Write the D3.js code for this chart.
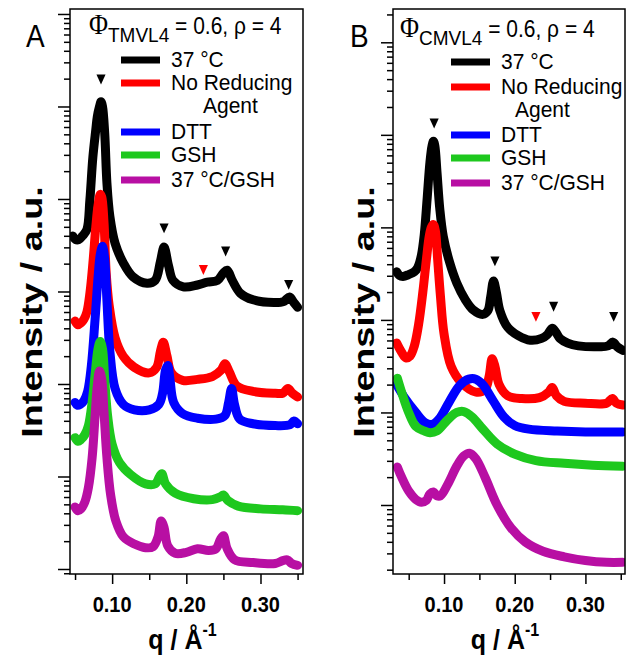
<!DOCTYPE html>
<html><head><meta charset="utf-8">
<script src="https://cdn.jsdelivr.net/npm/d3@7"></script>
<style>body{margin:0;background:#fff}svg{display:block}</style>
</head><body><div id="chart"></div>
<script>
// ---------------- DATA ----------------
const seriesNames = ["37 °C", "No Reducing Agent", "DTT", "GSH", "37 °C/GSH"];
const xTickValues = [0.05, 0.10, 0.15, 0.20, 0.25, 0.30, 0.35];
const xTickLabels = ["", "0.10", "", "0.20", "", "0.30", ""];

// Panel A (TMVL4): q in 1/Å, log10 intensity (a.u.)
const qA_37C   = [0.047,0.051,0.055,0.060,0.066,0.070,0.074,0.078,0.080,0.083,0.085,0.087,0.090,0.093,0.097,0.104,0.115,0.128,0.147,0.158,0.165,0.170,0.176,0.182,0.196,0.215,0.228,0.242,0.250,0.255,0.262,0.273,0.290,0.318,0.331,0.339,0.345,0.350];
const logA_37C = [3.60,3.56,3.56,3.60,3.67,3.99,4.45,4.75,4.89,5.00,5.05,5.00,4.71,4.17,3.81,3.52,3.31,3.16,3.09,3.12,3.32,3.48,3.28,3.12,3.05,3.07,3.10,3.12,3.20,3.23,3.12,2.98,2.91,2.88,2.89,2.94,2.88,2.83];
const qA_NoRA   = [0.050,0.054,0.058,0.062,0.066,0.070,0.074,0.078,0.081,0.084,0.086,0.089,0.092,0.096,0.104,0.115,0.130,0.150,0.160,0.165,0.169,0.174,0.180,0.195,0.215,0.235,0.247,0.252,0.258,0.268,0.290,0.320,0.330,0.337,0.343,0.350];
const logA_NoRA = [2.68,2.64,2.66,2.70,2.78,2.98,3.30,3.70,3.93,4.05,4.02,3.75,3.20,2.85,2.50,2.30,2.18,2.12,2.18,2.35,2.45,2.30,2.12,2.04,2.05,2.08,2.15,2.22,2.13,1.98,1.92,1.90,1.90,1.95,1.90,1.86];
const qA_DTT   = [0.050,0.053,0.057,0.062,0.067,0.072,0.077,0.081,0.084,0.087,0.090,0.093,0.097,0.104,0.115,0.130,0.150,0.163,0.168,0.172,0.175,0.178,0.183,0.195,0.215,0.240,0.252,0.257,0.261,0.265,0.272,0.290,0.320,0.340,0.345,0.350];
const logA_DTT = [1.80,1.77,1.78,1.82,1.92,2.20,2.70,3.15,3.40,3.49,3.35,2.90,2.35,1.95,1.78,1.72,1.72,1.78,1.90,2.15,2.20,2.05,1.80,1.68,1.63,1.62,1.66,1.80,1.95,1.78,1.62,1.57,1.55,1.56,1.60,1.57];
const qA_GSH   = [0.050,0.054,0.058,0.063,0.068,0.073,0.077,0.081,0.084,0.087,0.090,0.094,0.100,0.110,0.125,0.145,0.158,0.164,0.167,0.172,0.185,0.210,0.235,0.246,0.250,0.256,0.270,0.300,0.330,0.350];
const logA_GSH = [1.42,1.38,1.40,1.45,1.55,1.80,2.10,2.38,2.46,2.38,2.05,1.65,1.35,1.15,1.02,0.92,0.92,1.00,1.03,0.92,0.82,0.76,0.75,0.78,0.80,0.74,0.68,0.65,0.64,0.63];
const qA_37GSH   = [0.050,0.054,0.058,0.063,0.068,0.073,0.077,0.080,0.083,0.086,0.089,0.093,0.098,0.105,0.115,0.130,0.145,0.155,0.162,0.166,0.170,0.175,0.185,0.200,0.215,0.230,0.240,0.246,0.250,0.255,0.265,0.290,0.320,0.330,0.336,0.342,0.350];
const logA_37GSH = [0.67,0.63,0.65,0.72,0.88,1.20,1.65,1.98,2.14,2.05,1.70,1.20,0.80,0.52,0.35,0.27,0.23,0.24,0.35,0.52,0.45,0.25,0.17,0.18,0.22,0.20,0.22,0.32,0.36,0.22,0.10,0.07,0.06,0.09,0.10,0.06,0.04];

// Panel B (CMVL4)
const qB_37C   = [0.033,0.037,0.042,0.050,0.058,0.063,0.068,0.072,0.076,0.080,0.083,0.085,0.087,0.090,0.094,0.099,0.108,0.118,0.130,0.141,0.155,0.162,0.166,0.170,0.174,0.179,0.190,0.205,0.222,0.238,0.246,0.253,0.258,0.264,0.275,0.290,0.320,0.332,0.339,0.345,0.353];
const logB_37C = [2.52,2.48,2.47,2.49,2.52,2.57,2.70,2.92,3.30,3.70,3.88,3.93,3.88,3.60,3.20,2.90,2.62,2.40,2.22,2.11,2.06,2.10,2.25,2.42,2.30,2.10,1.92,1.83,1.78,1.80,1.84,1.91,1.87,1.80,1.75,1.72,1.71,1.72,1.76,1.71,1.67];
const qB_NoRA   = [0.033,0.040,0.046,0.052,0.058,0.064,0.070,0.075,0.079,0.082,0.085,0.088,0.091,0.095,0.100,0.110,0.125,0.145,0.158,0.164,0.168,0.172,0.178,0.190,0.210,0.235,0.248,0.253,0.259,0.270,0.300,0.330,0.338,0.344,0.353];
const logB_NoRA = [1.75,1.65,1.59,1.61,1.72,1.95,2.30,2.65,2.90,3.00,3.03,2.95,2.65,2.25,1.85,1.50,1.32,1.22,1.25,1.40,1.58,1.50,1.30,1.18,1.15,1.16,1.22,1.27,1.18,1.12,1.10,1.10,1.15,1.10,1.08];
const qB_DTT   = [0.033,0.045,0.060,0.073,0.083,0.093,0.107,0.122,0.135,0.145,0.155,0.170,0.185,0.200,0.220,0.260,0.300,0.353];
const logB_DTT = [1.30,1.15,1.00,0.89,0.87,0.93,1.11,1.29,1.36,1.36,1.30,1.12,0.95,0.86,0.82,0.80,0.79,0.79];
const qB_GSH   = [0.034,0.040,0.050,0.060,0.072,0.080,0.090,0.105,0.118,0.128,0.140,0.155,0.175,0.200,0.230,0.270,0.310,0.353];
const logB_GSH = [1.37,1.22,1.00,0.85,0.80,0.78,0.80,0.92,1.00,1.01,0.95,0.82,0.66,0.55,0.48,0.45,0.43,0.42];
const qB_37GSH   = [0.034,0.040,0.050,0.060,0.068,0.075,0.080,0.085,0.090,0.095,0.105,0.118,0.128,0.136,0.145,0.158,0.175,0.195,0.215,0.240,0.270,0.300,0.330,0.353];
const logB_37GSH = [0.41,0.30,0.15,0.06,0.03,0.05,0.12,0.14,0.10,0.10,0.22,0.42,0.53,0.56,0.50,0.30,0.00,-0.25,-0.40,-0.50,-0.56,-0.60,-0.62,-0.62];

// Peak markers (q, log10 intensity, 0 = black marker, 1 = red marker)
const markA_q = [0.085, 0.170, 0.223, 0.253, 0.338];
const markA_log = [5.31, 3.70, 3.25, 3.45, 3.09];
const markA_kind = [0, 0, 1, 0, 0];
const markB_q = [0.086, 0.172, 0.230, 0.255, 0.340];
const markB_log = [4.14, 2.65, 2.05, 2.16, 2.05];
const markB_kind = [0, 0, 1, 0, 0];

// ---------------- STYLE / LAYOUT ----------------
const colors = ["#000000", "#ff0000", "#0000ff", "#1ec81e", "#b80fa3"];
const markColors = ["#000000", "#ff0000"];
const W = 636, H = 663, SY = 1.1;
const FONT = "'Liberation Sans', Arial, sans-serif";
const svg = d3.select("#chart").append("svg").attr("width", W).attr("height", H);

function text(g, x, y, str, opt = {}) {
  return g.append("text")
    .attr("transform", `translate(${x},${y}) scale(1,${opt.sy || SY})`)
    .attr("font-family", opt.family || FONT)
    .attr("font-size", opt.size || 21)
    .attr("font-weight", opt.weight || "normal")
    .attr("text-anchor", opt.anchor || "start")
    .attr("fill", "#000")
    .text(str);
}

const panels = [
  { letter: "A", sub: "TMVL4", left: 70, right: 303, top: 9, bottom: 574,
    xDomain: [0.0432, 0.3573], yDomain: [0.883, 1.132e6],
    series: [[qA_37C, logA_37C], [qA_NoRA, logA_NoRA], [qA_DTT, logA_DTT], [qA_GSH, logA_GSH], [qA_37GSH, logA_37GSH]],
    marks: [markA_q, markA_log, markA_kind],
    letterX: 26, titleX: 89, titleY: 34, legLineX: 121, legTextX: 171, agentX: 203,
    legY: [60, 83, 132, 155, 180], ylabX: 32, ylabY: 312 },
  { letter: "B", sub: "CMVL4", left: 393, right: 625, top: 9, bottom: 574,
    xDomain: [0.0278, 0.356], yDomain: [0.1796, 2.29e5],
    series: [[qB_37C, logB_37C], [qB_NoRA, logB_NoRA], [qB_DTT, logB_DTT], [qB_GSH, logB_GSH], [qB_37GSH, logB_37GSH]],
    marks: [markB_q, markB_log, markB_kind],
    letterX: 350, titleX: 400, titleY: 37, legLineX: 451, legTextX: 501, agentX: 515,
    legY: [62, 87, 135, 158, 183], ylabX: 364, ylabY: 312 }
];

panels.forEach(p => {
  const g = svg.append("g");
  const x = d3.scaleLinear().domain(p.xDomain).range([p.left, p.right]);
  const y = d3.scaleLog().domain(p.yDomain).range([p.bottom, p.top]);

  // curves
  const clipId = "clip" + p.letter;
  g.append("clipPath").attr("id", clipId).append("rect")
    .attr("x", p.left).attr("y", p.top).attr("width", p.right - p.left).attr("height", p.bottom - p.top);
  const line = d3.line().x(d => x(d[0])).y(d => y(Math.pow(10, d[1]))).curve(d3.curveCatmullRom.alpha(0.5));
  p.series.forEach((s, i) => {
    const pts = s[0].map((q, k) => [q, s[1][k]]);
    g.append("path").attr("d", line(pts)).attr("fill", "none")
      .attr("stroke", colors[i]).attr("stroke-width", 9)
      .attr("stroke-linecap", "round").attr("stroke-linejoin", "round")
      .attr("clip-path", `url(#${clipId})`);
  });

  // peak markers (down-pointing triangles)
  const tri = d3.symbol().type(d3.symbolTriangle).size(36);
  p.marks[0].forEach((q, k) => {
    g.append("path").attr("d", tri())
      .attr("transform", `translate(${x(q)},${y(Math.pow(10, p.marks[1][k]))}) rotate(180) scale(1,1.25)`)
      .attr("fill", markColors[p.marks[2][k]]);
  });

  // frame
  g.append("rect").attr("x", p.left).attr("y", p.top)
    .attr("width", p.right - p.left).attr("height", p.bottom - p.top)
    .attr("fill", "none").attr("stroke", "#000").attr("stroke-width", 1.5);

  // x axis
  const xa = g.append("g").attr("transform", `translate(0,${p.bottom})`)
    .call(d3.axisBottom(x).tickValues(xTickValues).tickFormat(() => "").tickSizeOuter(0));
  xa.select(".domain").remove();
  xa.selectAll(".tick line").attr("stroke-width", 1.5)
    .attr("y2", (d, i) => xTickLabels[i] ? 10 : 6);
  xTickValues.forEach((v, i) => {
    if (xTickLabels[i]) text(g, x(v), 612, xTickLabels[i], { size: 20, weight: "bold", anchor: "middle", sy: 1.12 });
  });

  // y axis (log, no labels)
  const ya = g.append("g").attr("transform", `translate(${p.left},0)`)
    .call(d3.axisLeft(y).tickValues(y.ticks()).tickFormat(() => "").tickSizeOuter(0));
  ya.select(".domain").remove();
  ya.selectAll(".tick line").attr("stroke-width", 1.5)
    .attr("x2", d => Math.abs(Math.log10(d) - Math.round(Math.log10(d))) < 1e-6 ? -12 : -6);

  // axis titles
  const xt = g.append("text")
    .attr("transform", `translate(${(p.left + p.right) / 2 - 4},649) scale(1,${SY})`)
    .attr("font-family", FONT).attr("font-size", 25)
    .attr("font-weight", "bold").attr("text-anchor", "middle");
  xt.append("tspan").text("q / Å");
  xt.append("tspan").attr("font-size", 16).attr("dy", -12).text("-1");

  g.append("text")
    .attr("transform", `translate(${p.ylabX},${p.ylabY}) rotate(-90) scale(1.3,1)`)
    .attr("font-family", FONT).attr("font-size", 29)
    .attr("font-weight", "bold").attr("text-anchor", "middle").attr("dy", "0.35em")
    .text("Intensity / a.u.");

  // panel letter
  text(g, p.letterX, 47, p.letter, { size: 28 });

  // title
  const tt = g.append("text")
    .attr("transform", `translate(${p.titleX},${p.titleY}) scale(1,${SY})`)
    .attr("font-family", FONT).attr("font-size", 21);
  tt.append("tspan").attr("font-family", "'Liberation Serif', 'Times New Roman', serif").attr("font-size", 26).text("Φ");
  tt.append("tspan").attr("font-size", 19).attr("dy", 7).text(p.sub);
  tt.append("tspan").attr("dy", -7).text(" = 0.6, ρ = 4");

  // legend
  seriesNames.forEach((name, i) => {
    g.append("line").attr("x1", p.legLineX).attr("x2", p.legLineX + 39)
      .attr("y1", p.legY[i]).attr("y2", p.legY[i])
      .attr("stroke", colors[i]).attr("stroke-width", 7);
    if (name === "No Reducing Agent") {
      text(g, p.legTextX, p.legY[i] + 7, "No Reducing", { sy: 1.04 });
      text(g, p.agentX, p.legY[i] + 30, "Agent", { sy: 1.04 });
    } else {
      text(g, p.legTextX, p.legY[i] + 7, name, { sy: 1.04 });
    }
  });
});
</script>
</body></html>
